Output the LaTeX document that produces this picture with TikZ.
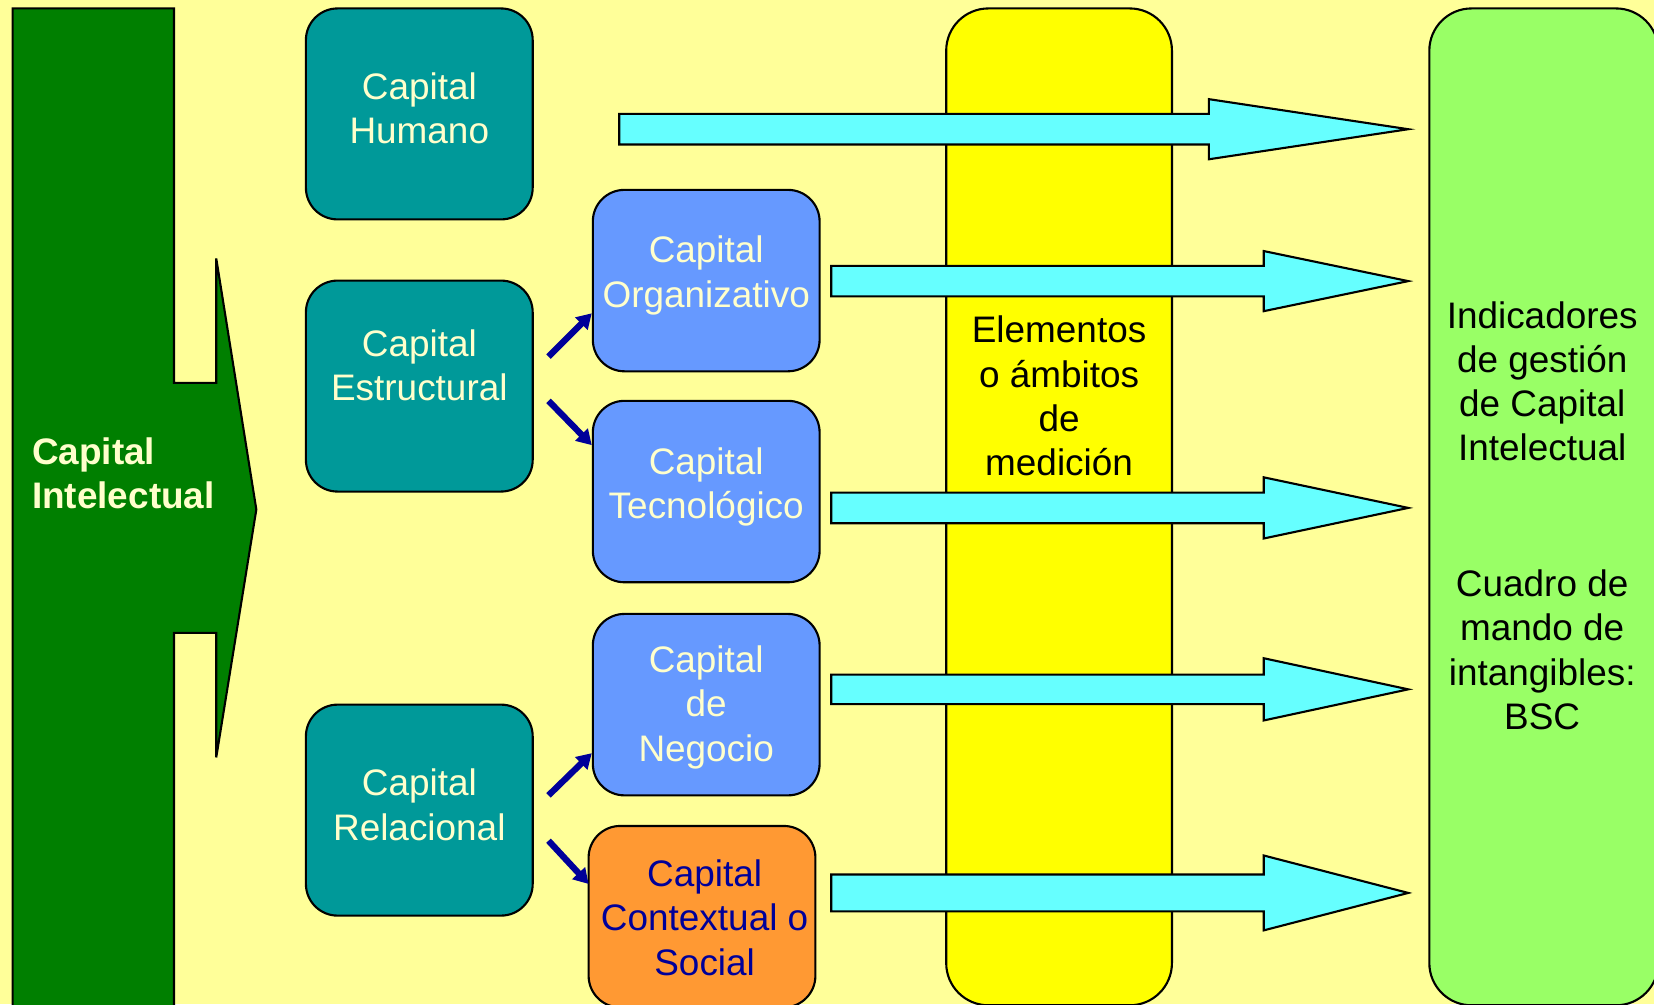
\documentclass[tikz,border=0pt]{standalone}
\usepackage{fontspec}
\setmainfont{Liberation Sans}
\usetikzlibrary{arrows.meta,calc}
\definecolor{bg}{HTML}{FFFF99}
\definecolor{ci}{HTML}{007F00}
\definecolor{teal1}{HTML}{009999}
\definecolor{blue1}{HTML}{6699FF}
\definecolor{orange1}{HTML}{FF9933}
\definecolor{cyan1}{HTML}{66FFFF}
\definecolor{yellow1}{HTML}{FFFF00}
\definecolor{lime1}{HTML}{99FF66}
\definecolor{cream}{HTML}{FFFFCC}
\definecolor{navy1}{HTML}{000099}
\newcommand\bigarrow[6]{%
  \draw[cyanarrow] (#1,#2-#5) -- (#3,#2-#5) -- (#3,#2-#6) -- (#4,#2) -- (#3,#2+#6) -- (#3,#2+#5) -- (#1,#2+#5) -- cycle;}
\begin{document}
\begin{tikzpicture}[x=0.5pt,y=-0.5pt,
  box/.style={draw=black,line width=1pt,rounded corners=15pt,minimum width=107.5pt,minimum height=100pt,inner sep=0pt},
  smallbox/.style={box,minimum height=86pt},
  tallbox/.style={draw=black,line width=1pt,rounded corners=20pt,minimum height=472.5pt,inner sep=0pt},
  txt/.style={font=\fontsize{17.5}{21}\selectfont,align=center,inner sep=0pt},
  cyanarrow/.style={draw=black,line width=1pt,fill=cyan1,line join=miter},
  bluearrow/.style={navy1,line width=3pt,-{Triangle[length=7pt,width=8pt]}}]
\useasboundingbox (0,0) rectangle (1568,952);
\fill[bg] (0,0) rectangle (1568,952);
\begin{scope}
\clip (0,0) rectangle (1568,952);
% big green arrow
\draw[fill=ci,line width=1pt] (12,8) -- (165,8) -- (165,363) -- (205,363) -- (205,245) -- (243,483) -- (205,718) -- (205,600) -- (165,600) -- (165,980) -- (12,980) -- cycle;
% boxes
\node[box,fill=teal1] (hum) at (397.5,108) {};
\node[box,fill=teal1] (estr) at (397.5,366) {};
\node[box,fill=teal1] (rel) at (397.5,768) {};
\node[smallbox,fill=blue1] (org) at (669.5,266) {};
\node[smallbox,fill=blue1] (tec) at (669.5,466) {};
\node[smallbox,fill=blue1] (neg) at (669.5,668) {};
\node[smallbox,fill=orange1] (ctx) at (665.5,869) {};
\node[tallbox,fill=yellow1,minimum width=107pt] (col) at (1004,480.5) {};
\node[tallbox,fill=lime1,minimum width=108.5pt] (ind) at (1463.5,480.5) {};
% block arrows
\bigarrow{587}{122.5}{1146}{1335}{14.5}{28.5}
\bigarrow{788}{266.5}{1198}{1335}{14.5}{28.5}
\bigarrow{788}{481.5}{1198}{1335}{14.5}{29}
\bigarrow{788}{653.5}{1198}{1335}{14}{29.5}
\bigarrow{788}{846.5}{1198}{1335}{17.5}{35.5}
% small arrows
\draw[bluearrow] ($(estr.east)+(14,-28)$) -- ($(org.west)+(0,31)$);
\draw[bluearrow] ($(estr.east)+(14,14)$) -- ($(tec.west)+(0,-44)$);
\draw[bluearrow] ($(rel.east)+(14,-14)$) -- ($(neg.west)+(0,46)$);
\draw[bluearrow] ($(rel.east)+(14,29)$) -- ($(ctx.west)+(1,-31)$);
% texts
\node[txt,text=cream,font=\fontsize{17.5}{21}\selectfont\bfseries,align=left,anchor=west] (tci) at (30,449) {Capital\\Intelectual};
\node[txt,text=cream] (thum) at (397.5,103) {Capital\\Humano};
\node[txt,text=cream] (testr) at (397.5,346) {Capital\\Estructural};
\node[txt,text=cream] (trel) at (397.5,763) {Capital\\Relacional};
\node[txt,text=cream] (torg) at (669.5,261) {Capital\\Organizativo};
\node[txt,text=cream] (ttec) at (669.5,461.5) {Capital\\Tecnológico};
\node[txt,text=cream] (tneg) at (669.5,670.5) {Capital\\de\\Negocio};
\node[txt,text=navy1] (tctx) at (668,870) {Capital\\Contextual o\\Social};
\node[txt] (tcol) at (1004,375.5) {Elementos\\o ámbitos\\de\\medición};
\node[txt] (tind) at (1462,361.5) {Indicadores\\de gestión\\de Capital\\Intelectual};
\node[txt] (tbsc) at (1462,616) {Cuadro de\\mando de\\intangibles:\\BSC};
\end{scope}
\end{tikzpicture}
\end{document}
